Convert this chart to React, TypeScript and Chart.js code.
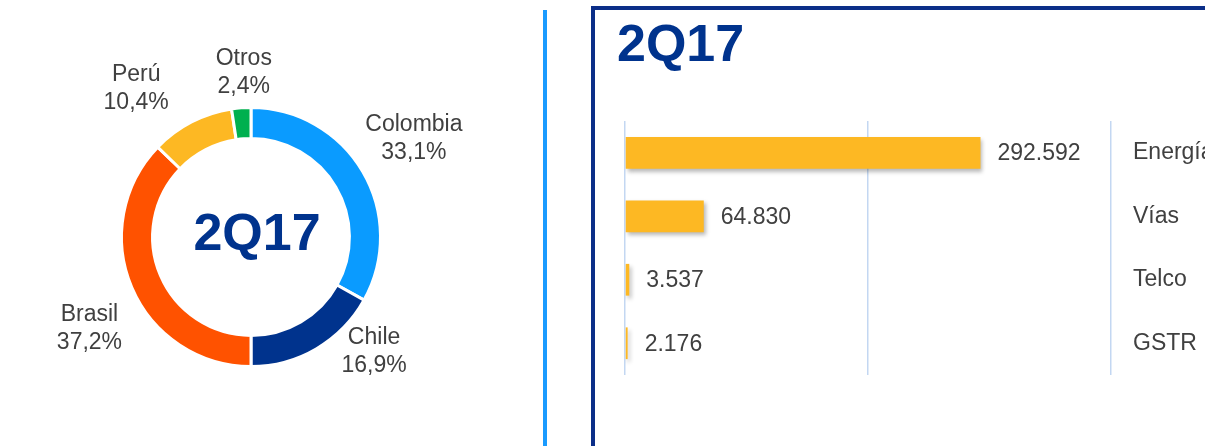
import React, { useEffect, useRef } from 'react';
import { Chart, registerables } from 'chart.js';

Chart.register(...registerables);

// ---------- data ----------
const periodTitle = '2Q17';
const regionLabels = ['Colombia', 'Chile', 'Brasil', 'Perú', 'Otros'];
const regionShares = [33.1, 16.9, 37.2, 10.4, 2.4];
const businessLabels = ['Energía', 'Vías', 'Telco', 'GSTR'];
const businessValues = [292592, 64830, 3537, 2176];
const valueAxisMax = 400000;
const valueAxisStep = 200000;

// ---------- styles ----------
const regionColors = ['#0A9BFF', '#00338D', '#FF5200', '#FDB823', '#00B04F'];
const barColor = '#FDB823';
const textColor = '#404040';
const navy = '#00338D';
const labelFont = '23px "Liberation Sans", Arial, sans-serif';
const titleFont = 'bold 52px "Liberation Sans", Arial, sans-serif';
// label placement around the ring: angular shift (deg) from slice middle, distance beyond outer radius (px)
const labelPlacement = [
  { shift: -0.8, gap: 61 },
  { shift: -16.5, gap: 39 },
  { shift: -6.4, gap: 56 },
  { shift: -10.4, gap: 58 },
  { shift: 1.8, gap: 35 },
];

const fmtPct = (v: number) => v.toFixed(1).replace('.', ',') + '%';
const fmtThousands = (v: number) => String(v).replace(/\B(?=(\d{3})+(?!\d))/g, '.');

const doughnutLabelsPlugin = {
  id: 'doughnutLabels',
  afterDraw(chart: any) {
    const ctx = chart.ctx;
    const meta = chart.getDatasetMeta(0);
    ctx.save();
    meta.data.forEach((arc: any, i: number) => {
      const p = arc.getProps(['x', 'y', 'startAngle', 'endAngle', 'outerRadius'], true);
      const place = labelPlacement[i];
      const ang = (p.startAngle + p.endAngle) / 2 + (place.shift * Math.PI) / 180;
      const d = p.outerRadius + place.gap;
      const cx = p.x + d * Math.cos(ang);
      const cy = p.y + d * Math.sin(ang);
      ctx.font = labelFont;
      ctx.fillStyle = textColor;
      ctx.textAlign = 'center';
      ctx.textBaseline = 'middle';
      ctx.fillText(chart.data.labels[i], cx, cy - 14);
      ctx.fillText(fmtPct(chart.data.datasets[0].data[i]), cx, cy + 14);
    });
    const a0 = meta.data[0];
    if (a0) {
      ctx.font = titleFont;
      ctx.fillStyle = navy;
      ctx.textAlign = 'center';
      ctx.textBaseline = 'alphabetic';
      ctx.fillText(periodTitle, a0.x + 6, a0.y + 13);
    }
    ctx.restore();
  },
};

const barShadowPlugin = {
  id: 'barShadow',
  beforeDatasetsDraw(chart: any) {
    const ctx = chart.ctx;
    ctx.save();
    ctx.shadowColor = 'rgba(0,0,0,0.28)';
    ctx.shadowBlur = 4;
    ctx.shadowOffsetX = 2;
    ctx.shadowOffsetY = 3;
  },
  afterDatasetsDraw(chart: any) {
    const ctx = chart.ctx;
    ctx.restore();
    const meta = chart.getDatasetMeta(0);
    ctx.save();
    ctx.font = labelFont;
    ctx.fillStyle = textColor;
    ctx.textAlign = 'left';
    ctx.textBaseline = 'middle';
    meta.data.forEach((bar: any, i: number) => {
      const p = bar.getProps(['x', 'y'], true);
      ctx.fillText(fmtThousands(chart.data.datasets[0].data[i]), p.x + 17, p.y + 1);
    });
    ctx.restore();
  },
};

export default function App() {
  const donutRef = useRef<HTMLCanvasElement>(null);
  const barRef = useRef<HTMLCanvasElement>(null);

  useEffect(() => {
    const donut = new Chart(donutRef.current!, {
      type: 'doughnut',
      data: {
        labels: regionLabels,
        datasets: [
          {
            data: regionShares,
            backgroundColor: regionColors,
            borderColor: '#ffffff',
            borderWidth: 3,
          },
        ],
      },
      options: {
        responsive: false,
        animation: false,
        devicePixelRatio: 1,
        cutout: '76%',
        layout: { padding: { left: 120, top: 106, right: 158, bottom: 78 } },
        plugins: { legend: { display: false }, tooltip: { enabled: false } },
      },
      plugins: [doughnutLabelsPlugin],
    } as any);

    const bars = new Chart(barRef.current!, {
      type: 'bar',
      data: {
        labels: businessLabels,
        datasets: [
          {
            data: businessValues,
            backgroundColor: barColor,
            categoryPercentage: 1,
            barPercentage: 0.5,
          },
        ],
      },
      options: {
        indexAxis: 'y',
        responsive: false,
        animation: false,
        devicePixelRatio: 1,
        layout: { padding: { left: 29, top: 121, right: 0, bottom: 71 } },
        plugins: { legend: { display: false }, tooltip: { enabled: false } },
        scales: {
          x: {
            min: 0,
            max: valueAxisMax,
            ticks: { display: false, stepSize: valueAxisStep },
            grid: { color: '#C3D7F2', lineWidth: 1.5, drawTicks: false },
            border: { display: false },
          },
          y: {
            position: 'right',
            grid: { display: false, drawTicks: false },
            border: { display: false },
            ticks: { font: { family: '"Liberation Sans", Arial, sans-serif', size: 23 }, color: textColor, padding: 22 },
            afterFit: (s: any) => {
              s.width = 140;
            },
          },
        },
      },
      plugins: [barShadowPlugin],
    } as any);

    return () => {
      donut.destroy();
      bars.destroy();
    };
  }, []);

  return (
    <div
      style={{
        position: 'fixed',
        left: 0,
        top: 0,
        width: 1205,
        height: 446,
        overflow: 'hidden',
        background: '#ffffff',
      }}
    >
      <canvas ref={donutRef} width={540} height={446} style={{ position: 'absolute', left: 0, top: 0 }} />
      <div style={{ position: 'absolute', left: 543, top: 10, width: 4, height: 440, background: '#1A9BFF' }} />
      <div
        style={{
          position: 'absolute',
          left: 591,
          top: 6,
          width: 700,
          height: 500,
          borderLeft: '4px solid #0B2E88',
          borderTop: '4px solid #0B2E88',
          boxSizing: 'border-box',
        }}
      />
      <canvas ref={barRef} width={655} height={446} style={{ position: 'absolute', left: 596, top: 0 }} />
      <div
        style={{
          position: 'absolute',
          left: 617,
          top: 17,
          font: titleFont,
          lineHeight: '52px',
          color: navy,
          whiteSpace: 'nowrap',
        }}
      >
        {periodTitle}
      </div>
    </div>
  );
}
